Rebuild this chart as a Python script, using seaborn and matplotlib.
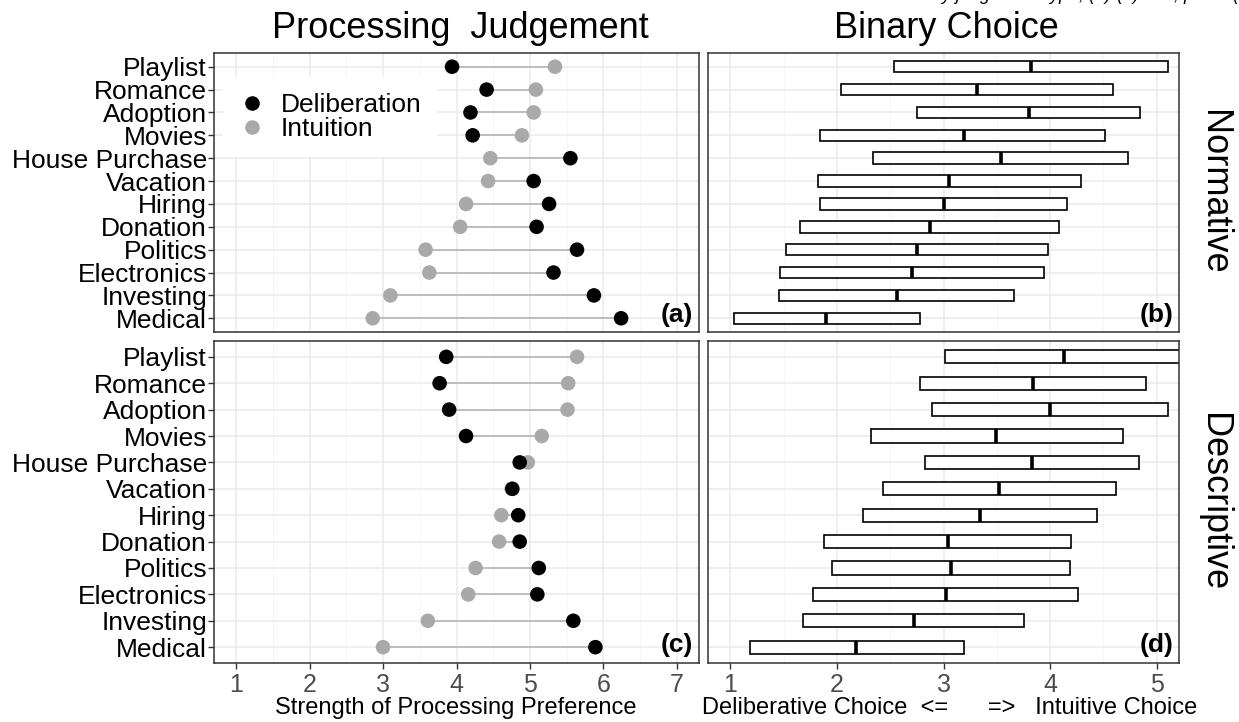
import numpy as np
import pandas as pd
import matplotlib
matplotlib.use("Agg")
import matplotlib.pyplot as plt
import seaborn as sns

sns.set_theme(style="white")
plt.rcParams["font.family"] = ["Liberation Sans", "DejaVu Sans"]
plt.rcParams["text.color"] = "black"
plt.rcParams["axes.labelcolor"] = "black"

BLACK = "#000000"
GREY = "#A9A9A9"
SEG = "#B0B0B0"
GRID = "#EBEBEB"
GRID_MINOR = "#F4F4F4"
FRAME = "#333333"

# ---------------------------------------------------------------------------
# data
# ---------------------------------------------------------------------------
categories = ["Playlist", "Romance", "Adoption", "Movies", "House Purchase",
              "Vacation", "Hiring", "Donation", "Politics", "Electronics",
              "Investing", "Medical"]

# processing judgement, normative (a)
norm_delib = [3.94, 4.41, 4.19, 4.22, 5.55, 5.05, 5.26, 5.09, 5.64, 5.32, 5.87, 6.24]
norm_intui = [5.34, 5.08, 5.05, 4.89, 4.46, 4.43, 4.13, 4.05, 3.58, 3.63, 3.10, 2.86]
# processing judgement, descriptive (c)
desc_delib = [3.86, 3.77, 3.90, 4.13, 4.86, 4.76, 4.84, 4.86, 5.12, 5.10, 5.59, 5.89]
desc_intui = [5.64, 5.52, 5.51, 5.16, 4.97, 4.75, 4.61, 4.58, 4.26, 4.16, 3.61, 3.00]

# binary choice, normative (b): quartiles
norm_q1 = [2.54, 2.04, 2.75, 1.84, 2.34, 1.82, 1.84, 1.65, 1.52, 1.47, 1.46, 1.03]
norm_med = [3.82, 3.31, 3.80, 3.19, 3.54, 3.05, 3.00, 2.87, 2.75, 2.70, 2.56, 1.90]
norm_q3 = [5.11, 4.59, 4.84, 4.52, 4.73, 4.29, 4.16, 4.08, 3.98, 3.94, 3.66, 2.78]
# binary choice, descriptive (d)
desc_q1 = [3.01, 2.78, 2.89, 2.32, 2.83, 2.43, 2.24, 1.88, 1.95, 1.78, 1.68, 1.18]
desc_med = [4.13, 3.84, 4.00, 3.49, 3.83, 3.52, 3.34, 3.04, 3.07, 3.02, 2.72, 2.18]
desc_q3 = [5.30, 4.90, 5.11, 4.68, 4.83, 4.62, 4.44, 4.20, 4.19, 4.26, 3.76, 3.19]

judge_ticks = [1, 2, 3, 4, 5, 6, 7]
choice_ticks = [1, 2, 3, 4, 5]


def long_frame(delib, intui):
    pos = list(range(len(categories)))
    d = pd.DataFrame({"category": categories * 2,
                      "pos": pos * 2,
                      "value": intui + delib,
                      "type": ["Intuition"] * len(categories) + ["Deliberation"] * len(categories)})
    return d


def style_axes(ax, ticks, xlim, show_x, show_y):
    ax.set_xticks(ticks)
    ax.set_xticks([t + 0.5 for t in ticks[:-1]], minor=True)
    ax.set_yticks(range(len(categories)))
    ax.set_xlim(*xlim)
    ax.set_ylim(len(categories) - 0.4, -0.6)
    ax.grid(which="major", color=GRID, lw=1.1)
    ax.grid(which="minor", axis="x", color=GRID_MINOR, lw=0.6)
    ax.set_axisbelow(True)
    for sp in ax.spines.values():
        sp.set_color(FRAME)
        sp.set_linewidth(1.1)
    ax.set_xlabel("")
    ax.set_ylabel("")
    ax.tick_params(which="minor", length=0)
    if show_x:
        ax.tick_params(axis="x", which="major", bottom=True, length=4, width=1, color=FRAME,
                       pad=3, labelsize=18, labelcolor="#4D4D4D")
    else:
        ax.tick_params(axis="x", which="major", bottom=False, labelbottom=False)
    if show_y:
        ax.set_yticklabels(categories)
        ax.tick_params(axis="y", which="major", left=True, length=4.5, width=1, color=FRAME,
                       pad=0.5, labelsize=19, labelcolor="black")
    else:
        ax.tick_params(axis="y", which="major", left=False, labelleft=False)


def dot_panel(ax, delib, intui, label, legend):
    d = long_frame(delib, intui)
    ax.hlines(range(len(categories)), np.minimum(delib, intui), np.maximum(delib, intui),
              color=SEG, lw=1.1, zorder=2)
    sns.scatterplot(data=d, x="value", y="pos", hue="type",
                    hue_order=["Deliberation", "Intuition"],
                    palette={"Deliberation": BLACK, "Intuition": GREY},
                    s=110, linewidth=0, ax=ax, legend=legend, zorder=3)
    style_axes(ax, judge_ticks, (0.70, 7.30), label == "(c)", True)
    ax.text(0.988, 0.018, label, transform=ax.transAxes, ha="right", va="bottom",
            fontsize=19, fontweight="bold")
    if legend:
        sns.move_legend(ax, "upper left", bbox_to_anchor=(0.019, 0.914), title=None,
                        frameon=True, fontsize=19, labelspacing=0.0,
                        handlelength=1.0, handletextpad=0.58, borderpad=0.6,
                        borderaxespad=0)
        leg = ax.get_legend()
        leg.get_frame().set_edgecolor("none")
        leg.get_frame().set_facecolor("white")
        leg.get_frame().set_alpha(1)
        leg.get_frame().set_boxstyle("square", pad=0)
        for t in leg.get_texts():
            t.set_color("black")


def box_panel(ax, q1, med, q3, label, strip):
    stats = [dict(med=m, q1=a, q3=b, whislo=a, whishi=b, fliers=[])
             for a, m, b in zip(q1, med, q3)]
    ax.bxp(stats, positions=range(len(categories)), orientation="horizontal", widths=0.5,
           showcaps=False, showfliers=False, patch_artist=True,
           boxprops=dict(facecolor="white", edgecolor="black", lw=1.2),
           medianprops=dict(color="black", lw=2.6, solid_capstyle="butt"),
           whiskerprops=dict(lw=0), manage_ticks=False)
    style_axes(ax, choice_ticks, (0.79, 5.21), label == "(d)", False)
    ax.text(0.988, 0.018, label, transform=ax.transAxes, ha="right", va="bottom",
            fontsize=19, fontweight="bold")
    ax.text(1.074, 0.5, strip, transform=ax.transAxes, rotation=-90,
            ha="center", va="center", fontsize=26)


W, H = 1239, 722
fig = plt.figure(figsize=(W / 100, H / 100), dpi=100)


def px_axes(x0, x1, y0, y1):
    return fig.add_axes([x0 / W, 1 - y1 / H, (x1 - x0) / W, (y1 - y0) / H])


ax_a = px_axes(214, 699, 53, 332)
ax_c = px_axes(214, 699, 341, 663)
ax_b = px_axes(708, 1179, 53, 332)
ax_d = px_axes(708, 1179, 341, 663)

dot_panel(ax_a, norm_delib, norm_intui, "(a)", True)
dot_panel(ax_c, desc_delib, desc_intui, "(c)", False)
box_panel(ax_b, norm_q1, norm_med, norm_q3, "(b)", "Normative")
box_panel(ax_d, desc_q1, desc_med, desc_q3, "(d)", "Descriptive")

fig.text(460 / W, 1 - 28 / H, "Processing  Judgement", ha="center", va="center", fontsize=26)
fig.text(946 / W, 1 - 28 / H, "Binary Choice", ha="center", va="center", fontsize=26)
fig.text(456 / W, 1 - 708 / H, "Strength of Processing Preference", ha="center",
         va="center", fontsize=17)
fig.text(950 / W, 1 - 708 / H, "Deliberative Choice  <=      =>   Intuitive Choice",
         ha="center", va="center", fontsize=17)
# caption fragment cut off at the top edge of the source image
fig.text(1239 / W, 1 - 0.5 / H, "by judgement type, (a)-(b) and, panel (", ha="right",
         va="baseline", fontsize=13, style="italic")

fig.savefig("out.png", dpi=100, facecolor="white")
